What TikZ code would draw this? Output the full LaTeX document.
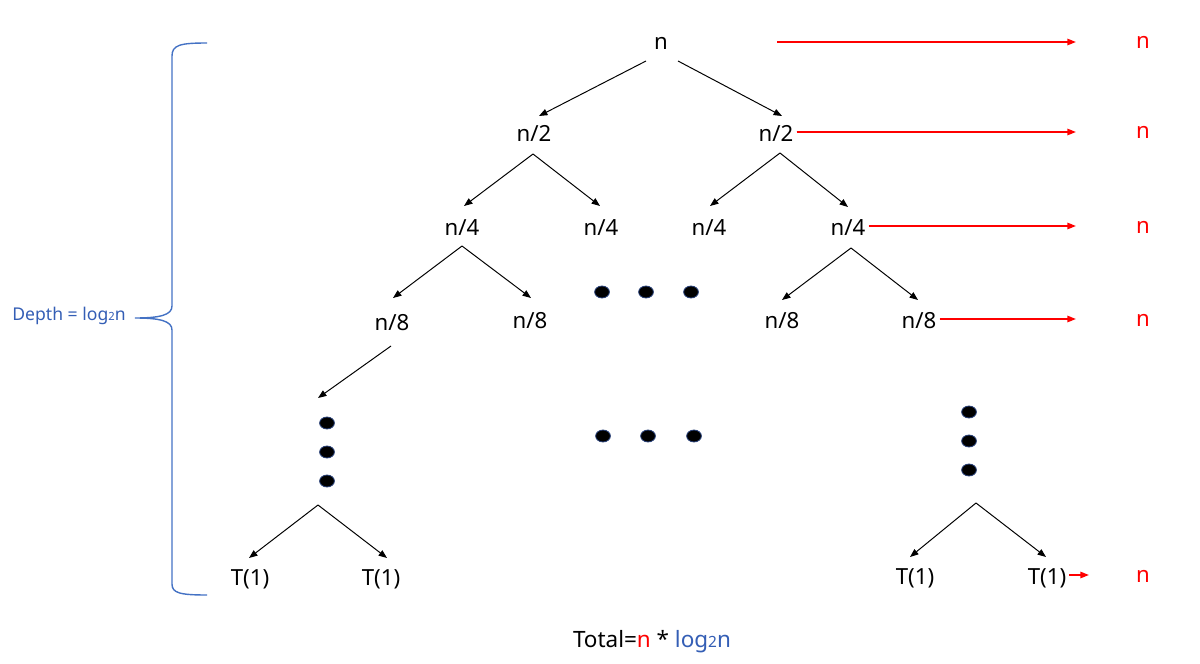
\documentclass[tikz,border=0pt]{standalone}
\usepackage{fontspec}
\setmainfont{Noto Sans}
\usetikzlibrary{calc,arrows.meta,shapes.geometric}
\definecolor{sumred}{RGB}{255,0,0}
\definecolor{depthblue}{RGB}{52,94,181}
\definecolor{bracecol}{RGB}{68,114,196}
\definecolor{dotedge}{RGB}{40,64,120}
\newcommand{\smalltwo}[1]{{\fontsize{#1}{#1}\selectfont 2}}
\begin{document}
\begin{tikzpicture}[x=.025cm,y=-.025cm,line cap=butt,line join=miter,
    >={Triangle[length=6pt,width=4.6pt]},
    lbl/.style={font=\fontsize{15.8}{19}\selectfont,inner sep=0pt,anchor=base},
    sumn/.style={lbl,text=sumred},
    dotnode/.style={ellipse,fill=black,draw=dotedge,line width=.6pt,
        minimum width=10.5pt,minimum height=8.5pt,inner sep=0pt},
    treearr/.style={->,line width=.7pt},
    sumarr/.style={->,line width=.9pt,draw=sumred,fill=sumred}]
    \useasboundingbox (0,0) rectangle (1200,663);
    % tree levels
    \node[lbl] (n) at (661,50) {n};
    \node[lbl] (n2a) at (534,141) {n/2};
    \node[lbl] (n2b) at (776,141) {n/2};
    \node[lbl] (n4a) at (462,235) {n/4};
    \node[lbl] (n4b) at (601,235) {n/4};
    \node[lbl] (n4c) at (709,235) {n/4};
    \node[lbl] (n4d) at (848,235) {n/4};
    \node[lbl] (n8a) at (392,330) {n/8};
    \node[lbl] (n8b) at (530,328) {n/8};
    \node[lbl] (n8c) at (782,328) {n/8};
    \node[lbl] (n8d) at (919,328) {n/8};
    \node[lbl] (t1a) at (250,585) {T(1)};
    \node[lbl] (t1b) at (381,585) {T(1)};
    \node[lbl] (t1c) at (915,584) {T(1)};
    \node[lbl] (t1d) at (1047,584) {T(1)};
    % dots
    \foreach \nm/\px/\py in {da1/602/292,da2/646/292,da3/691/292,
        db1/603/436,db2/648/436,db3/694/436,
        dl1/327/423,dl2/327/452,dl3/327/481,
        dr1/969/412,dr2/969/441,dr3/969/470}
        \node[dotnode] (\nm) at (\px,\py) {};
    \coordinate (bl) at ($(dl3)+(-9,24)$);
    \coordinate (br) at ($(dr3)+(7,33)$);
    \draw[treearr] ($(n.base)+(-15,11)$) -- ($(n2a.base)+(5,-25)$);
    \draw[treearr] ($(n.base)+(17,11)$) -- ($(n2b.base)+(6,-25)$);
    \draw[treearr] ($(n2a.base)+(-1,13)$) -- ($(n4a.base)+(2,-29)$);
    \draw[treearr] ($(n2a.base)+(-1,13)$) -- ($(n4b.base)+(-1,-29)$);
    \draw[treearr] ($(n2b.base)+(4,12)$) -- ($(n4c.base)+(1,-29)$);
    \draw[treearr] ($(n2b.base)+(4,12)$) -- ($(n4d.base)+(0,-28)$);
    \draw[treearr] ($(n4a.base)+(0,11)$) -- ($(n8a.base)+(1,-32)$);
    \draw[treearr] ($(n4a.base)+(0,11)$) -- ($(n8b.base)+(1,-30)$);
    \draw[treearr] ($(n4d.base)+(3,13)$) -- ($(n8c.base)+(0,-28)$);
    \draw[treearr] ($(n4d.base)+(3,13)$) -- ($(n8d.base)+(-1,-28)$);
    \draw[treearr] ($(n8a.base)+(-1,16)$) -- ($(dl1)+(-9,-25)$);
    \draw[treearr] (bl) -- ($(t1a.base)+(-1,-27)$);
    \draw[treearr] (bl) -- ($(t1b.base)+(6,-27)$);
    \draw[treearr] (br) -- ($(t1c.base)+(-5,-27)$);
    \draw[treearr] (br) -- ($(t1d.base)+(-1,-27)$);
    % cost per level
    \node[sumn] (rn0) at (1143,49) {n};
    \node[sumn] (rn1) at (1143,139) {n};
    \node[sumn] (rn2) at (1143,233) {n};
    \node[sumn] (rn3) at (1143,326) {n};
    \node[sumn] (rn4) at (1143,582) {n};
    \coordinate (r0) at (777,42);
    \draw[sumarr] (r0) -- ($(rn0.base west)+(-60,-7)$);
    \draw[sumarr] ($(n2b.base east)+(3,-9)$) -- ($(rn1.base west)+(-60,-7)$);
    \draw[sumarr] ($(n4d.base east)+(3,-9)$) -- ($(rn2.base west)+(-60,-7)$);
    \draw[sumarr] ($(n8d.base east)+(3,-9)$) -- ($(rn3.base west)+(-60,-7)$);
    \draw[sumarr] ($(t1d.base east)+(3,-9)$) -- ($(rn4.base west)+(-47,-7)$);
    % depth brace
    \draw[bracecol,line width=1pt] (207,43) .. controls (180,43) and (172,45) .. (172,56)
        -- (172,306) .. controls (172,315) and (160,318) .. (135,318)
        .. controls (160,318) and (172,321) .. (172,330)
        -- (172,584) .. controls (172,593) and (180,595) .. (207,595);
    \node[lbl,font=\fontsize{12.5}{15}\selectfont,text=depthblue] (depth) at (69,320)
        {Depth = log\smalltwo{8}n};
    \node[lbl,font=\fontsize{16}{19}\selectfont] (total) at (652,647)
        {Total=\textcolor{sumred}{n} * \textcolor{depthblue}{log\smalltwo{11}n}};
\end{tikzpicture}
\end{document}
